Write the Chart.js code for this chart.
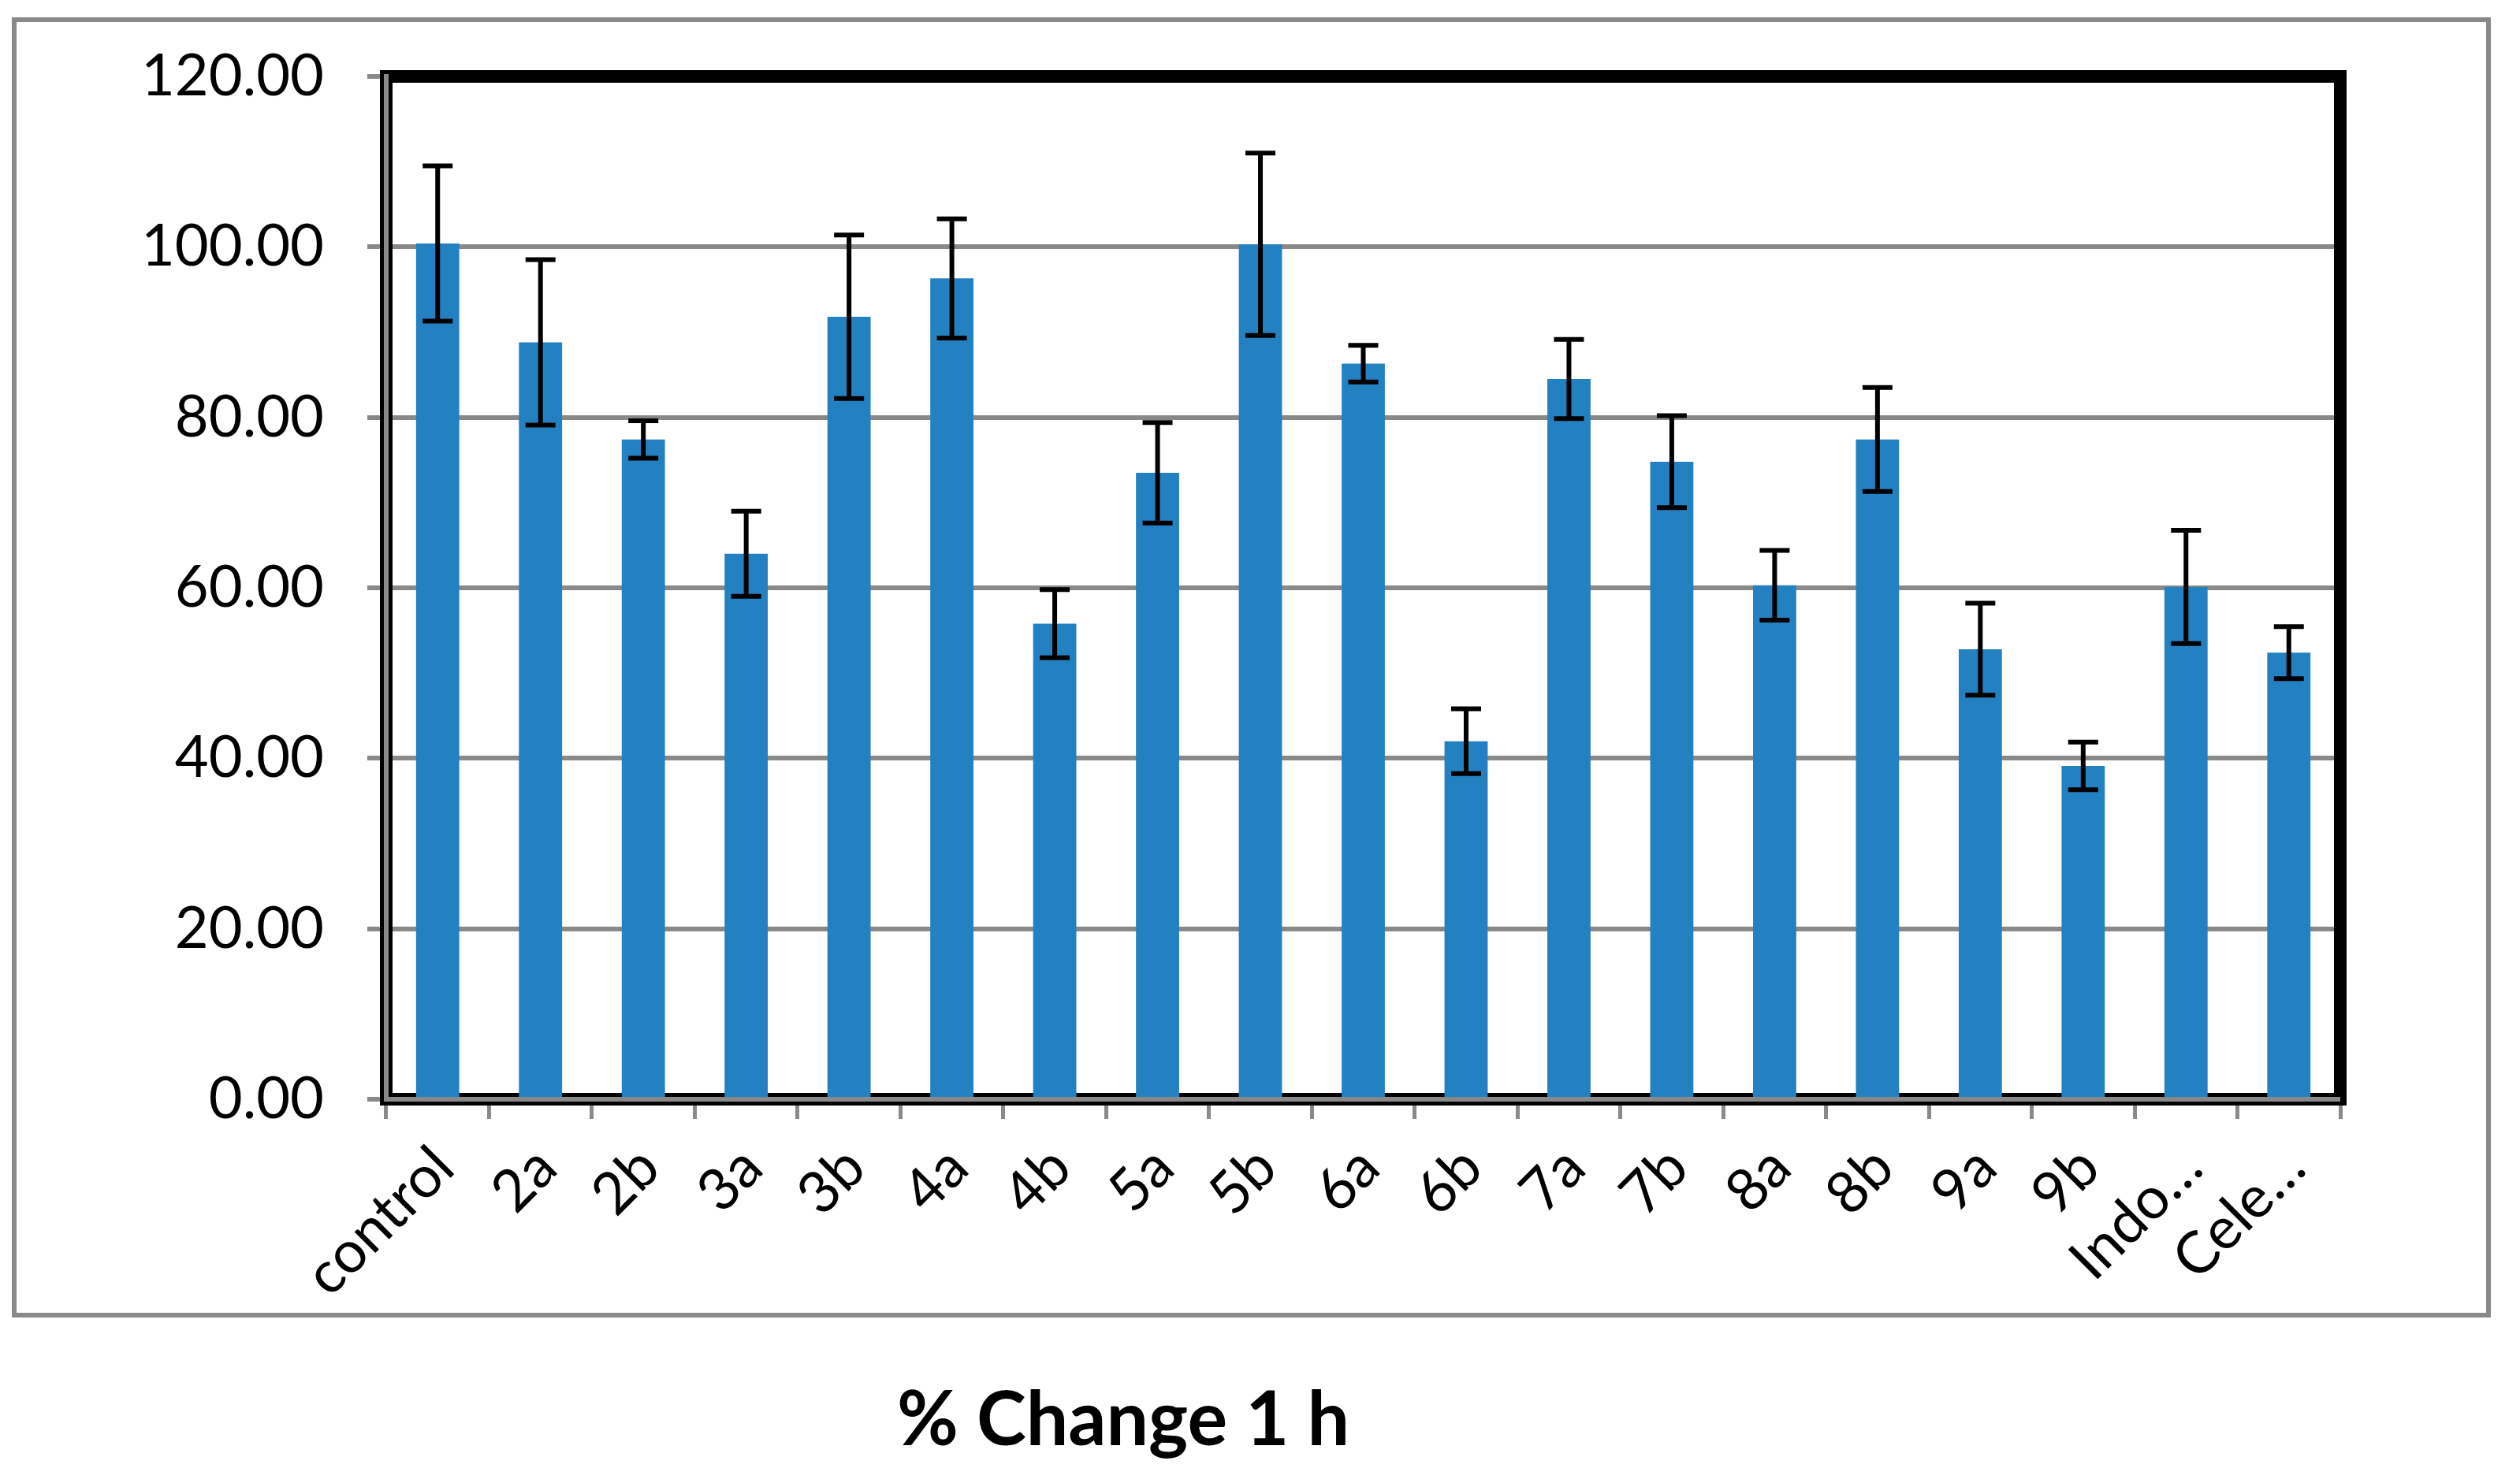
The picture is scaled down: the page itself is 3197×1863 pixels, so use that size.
<!DOCTYPE html>
<html>
<head>
<meta charset="utf-8">
<script src="https://cdn.jsdelivr.net/npm/chart.js"></script>
<style>
    body { margin: 0; background: #fff; }
    #box {
        position: absolute; left: 15px; top: 22px;
        width: 3145px; height: 1650px;
        box-sizing: border-box;
        border: 6px solid #898989;
    }
    #title {
        position: absolute; left: 0; top: 1750px; width: 2850px;
        text-align: center;
        font-family: Lato, sans-serif; font-weight: bold;
        font-size: 95px; line-height: 95px;
        color: #000;
    }
</style>
</head>
<body>
<div id="box"><canvas id="js--chart--1"></canvas></div>
<div id="title">% Change 1 h</div>

<script>
// waarden
const labels = ['control', '2a', '2b', '3a', '3b', '4a', '4b', '5a', '5b', '6a',
    '6b', '7a', '7b', '8a', '8b', '9a', '9b', 'Indo…', 'Cele…'];
const change = [100.4, 88.8, 77.4, 64.0, 91.8, 96.3, 55.8, 73.5, 100.3, 86.3,
    42.0, 84.5, 74.8, 60.3, 77.4, 52.8, 39.1, 60.1, 52.4];
const errors = [9.1, 9.7, 2.2, 5.0, 9.6, 7.0, 4.0, 5.9, 10.7, 2.15,
    3.8, 4.65, 5.4, 4.1, 6.1, 5.4, 2.8, 6.65, 3.05];
const yTicks = [0, 20, 40, 60, 80, 100, 120];

Chart.defaults.font.family = 'Lato, sans-serif';
Chart.defaults.color = '#000';

// zwarte rand om het plotvlak + grijze assen
const frame = {
    id: 'frame',
    beforeDatasetsDraw(chart) {
        const a = chart.chartArea;
        const c = chart.ctx;
        c.save();
        c.strokeStyle = '#000';
        c.lineWidth = 16;
        c.strokeRect(a.left, a.top, a.right - a.left, a.bottom - a.top);
        c.restore();
    },
    afterDatasetsDraw(chart) {
        const a = chart.chartArea;
        const c = chart.ctx;
        c.save();
        c.strokeStyle = '#898989';
        c.lineWidth = 6;
        c.beginPath();
        c.moveTo(a.left, a.top - 3);
        c.lineTo(a.left, a.bottom);
        c.lineTo(a.right, a.bottom);
        c.stroke();

        // foutbalken
        const y = chart.scales.y;
        const bars = chart.getDatasetMeta(0).data;
        c.strokeStyle = '#000';
        c.lineWidth = 6;
        bars.forEach((bar, i) => {
            const top = y.getPixelForValue(change[i] + errors[i]);
            const bot = y.getPixelForValue(change[i] - errors[i]);
            c.beginPath();
            c.moveTo(bar.x, top);
            c.lineTo(bar.x, bot);
            c.moveTo(bar.x - 19, top);
            c.lineTo(bar.x + 19, top);
            c.moveTo(bar.x - 19, bot);
            c.lineTo(bar.x + 19, bot);
            c.stroke();
        });
        c.restore();
    }
};

const ctx = document.getElementById('js--chart--1');

new Chart(ctx, {
    type: 'bar',
    data: {
        labels: labels,
        datasets: [{
            label: '% Change 1 h',
            data: change,
            backgroundColor: '#2481c1',
            borderWidth: 0,
            barPercentage: 0.42,
            categoryPercentage: 1
        }]
    },
    options: {
        responsive: true,
        maintainAspectRatio: false,
        animation: false,
        events: [],
        layout: {
            autoPadding: false,
            padding: { top: 69, right: 185, left: 0, bottom: 0 }
        },
        plugins: {
            legend: { display: false },
            tooltip: { enabled: false }
        },
        scales: {
            x: {
                afterFit(scale) { scale.height = 271; },
                border: { display: false },
                grid: {
                    drawOnChartArea: false,
                    color: '#898989',
                    lineWidth: 5,
                    tickLength: 25
                },
                ticks: {
                    autoSkip: false,
                    maxRotation: 45,
                    minRotation: 45,
                    padding: 18,
                    labelOffset: 8,
                    font: { size: 74 }
                }
            },
            y: {
                min: 0,
                max: 120,
                afterFit(scale) {
                    scale.width = 469;
                    scale.paddingTop = 0;
                    scale.paddingBottom = 0;
                },
                afterBuildTicks(scale) {
                    scale.ticks = yTicks.map(v => ({ value: v }));
                },
                border: { display: false },
                grid: {
                    color: '#898989',
                    lineWidth: 6,
                    tickLength: 24
                },
                ticks: {
                    padding: 55,
                    font: { size: 74 },
                    callback: v => v.toFixed(2)
                }
            }
        }
    },
    plugins: [frame]
});
</script>
</body>
</html>
